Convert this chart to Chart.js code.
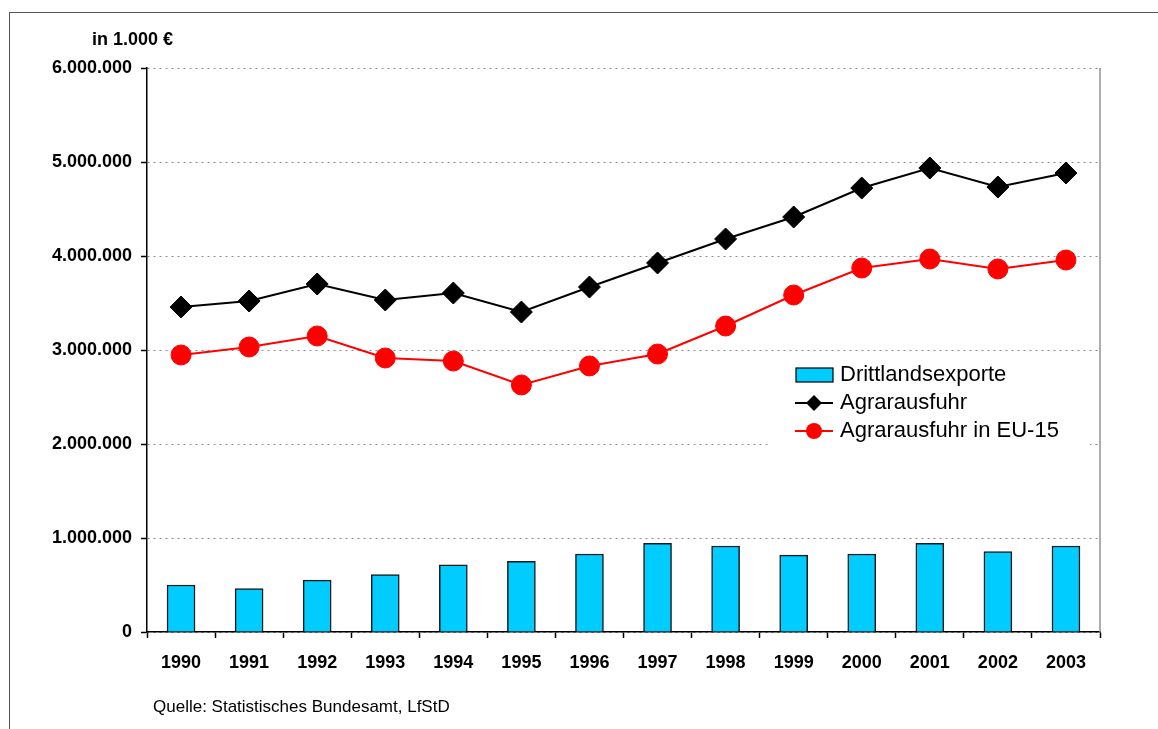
<!DOCTYPE html>
<html>
<head>
<meta charset="utf-8">
<script src="https://cdn.jsdelivr.net/npm/chart.js@4/dist/chart.umd.min.js"></script>
<style>
  html, body { margin: 0; padding: 0; background: #fff; }
  body { width: 1158px; height: 729px; position: relative; overflow: hidden; font-family: "Liberation Sans", Arial, sans-serif; }
  #frame { position: absolute; left: 9px; top: 12px; right: -5px; bottom: -5px; border-top: 1.5px solid #555; border-left: 1.5px solid #555; }
  #chartBox { position: absolute; left: 0; top: 0; width: 1158px; height: 729px; }
  .unit { position: absolute; left: 92px; top: 29px; font-size: 18px; font-weight: bold; color: #000; }
  .source { position: absolute; left: 153px; top: 697px; font-size: 17px; color: #000; }
</style>
</head>
<body>
<div id="frame"></div>
<div id="chartBox"><canvas id="exportChart"></canvas></div>
<div class="unit">in 1.000 €</div>
<div class="source">Quelle: Statistisches Bundesamt, LfStD</div>
<script>
let years = ["1990", "1991", "1992", "1993", "1994", "1995", "1996", "1997", "1998", "1999", "2000", "2001", "2002", "2003"];

let drittland = [500000, 462000, 552000, 612000, 715000, 752000, 830000, 944000, 915000, 818000, 830000, 944000, 856000, 915000];
let agrarausfuhr = [3457000, 3521000, 3702000, 3532000, 3606000, 3404000, 3670000, 3926000, 4181000, 4415000, 4723000, 4936000, 4734000, 4883000];
let agrarEU15 = [2947000, 3032000, 3149000, 2915000, 2883000, 2628000, 2830000, 2957000, 3255000, 3585000, 3872000, 3968000, 3862000, 3957000];

let yTicks = [0, 1000000, 2000000, 3000000, 4000000, 5000000, 6000000];

function fmt(n) {
  return n.toString().replace(/\B(?=(\d{3})+(?!\d))/g, ".");
}

// right border of the plot + legend box inside the plot
const plotExtras = {
  id: "plotExtras",
  beforeDatasetsDraw(chart) {
    let c = chart.ctx, a = chart.chartArea;
    c.save();
    c.strokeStyle = "#909090";
    c.lineWidth = 1.5;
    c.beginPath();
    c.moveTo(a.right, a.top);
    c.lineTo(a.right, a.bottom);
    c.stroke();
    // legend background hides grid lines
    c.fillStyle = "#fff";
    c.fillRect(768, 354, 322, 96);
    c.restore();
  },
  afterDraw(chart) {
    let c = chart.ctx;
    let ds = chart.data.datasets;
    c.save();
    c.font = "22px 'Liberation Sans', Arial, sans-serif";
    c.textBaseline = "middle";
    // bars
    c.fillStyle = ds[0].backgroundColor;
    c.fillRect(796, 368, 37, 14);
    c.strokeStyle = "#000";
    c.lineWidth = 1.2;
    c.strokeRect(796, 368, 37, 14);
    c.fillStyle = "#000";
    c.fillText(ds[0].label, 840, 375);
    // lines
    let rows = [[ds[1], 403], [ds[2], 431]];
    rows.forEach(function (r) {
      let d = r[0], y = r[1];
      c.strokeStyle = d.borderColor;
      c.lineWidth = 2;
      c.beginPath();
      c.moveTo(795, y);
      c.lineTo(833, y);
      c.stroke();
      c.fillStyle = d.pointBackgroundColor;
      c.beginPath();
      if (d.pointStyle === "rectRot") {
        c.moveTo(814 - 8, y); c.lineTo(814, y - 8); c.lineTo(814 + 8, y); c.lineTo(814, y + 8);
      } else {
        c.arc(814, y, 8, 0, Math.PI * 2);
      }
      c.closePath();
      c.fill();
      c.fillStyle = "#000";
      c.fillText(d.label, 840, y);
    });
    c.restore();
  }
};

let ctx = document.getElementById("exportChart").getContext("2d");

new Chart(ctx, {
  type: "bar",
  data: {
    labels: years,
    datasets: [
      {
        type: "bar",
        label: "Drittlandsexporte",
        data: drittland,
        backgroundColor: "#00CCFF",
        borderColor: "#1a1a1a",
        borderWidth: 1.5,
        barThickness: 28,
        order: 3
      },
      {
        type: "line",
        label: "Agrarausfuhr",
        data: agrarausfuhr,
        borderColor: "#000",
        borderWidth: 2,
        pointStyle: "rectRot",
        pointRadius: 11,
        pointBackgroundColor: "#000",
        pointBorderColor: "#000",
        pointBorderWidth: 1,
        tension: 0,
        order: 2
      },
      {
        type: "line",
        label: "Agrarausfuhr in EU-15",
        data: agrarEU15,
        borderColor: "#FF0000",
        borderWidth: 2,
        pointStyle: "circle",
        pointRadius: 10,
        pointBackgroundColor: "#FF0000",
        pointBorderColor: "#FF0000",
        pointBorderWidth: 1,
        tension: 0,
        order: 1
      }
    ]
  },
  options: {
    responsive: true,
    maintainAspectRatio: false,
    animation: false,
    layout: { padding: { left: 0, top: 68, right: 58, bottom: 0 } },
    plugins: {
      legend: { display: false },
      tooltip: { enabled: false }
    },
    scales: {
      x: {
        offset: true,
        afterFit(scale) { scale.height = 97; },
        grid: {
          offset: true,
          drawOnChartArea: false,
          drawTicks: true,
          tickLength: 6,
          tickColor: "#000",
          tickWidth: 1.5
        },
        border: { color: "#000", width: 1.5 },
        ticks: {
          color: "#000",
          padding: 14,
          maxRotation: 0,
          font: { family: "'Liberation Sans', Arial, sans-serif", size: 18, weight: "bold" }
        }
      },
      y: {
        min: 0,
        max: 6000000,
        afterFit(scale) { scale.width = 147; },
        afterBuildTicks(scale) { scale.ticks = yTicks.map(v => ({ value: v })); },
        grid: {
          color: "#8a8a8a",
          lineWidth: 1,
          tickLength: 6,
          tickColor: "#000",
          tickWidth: 1.5,
          tickBorderDash: []
        },
        border: { color: "#000", width: 1.5, dash: [2, 4] },
        ticks: {
          color: "#000",
          padding: 9,
          callback: function (v) { return fmt(v); },
          font: { family: "'Liberation Sans', Arial, sans-serif", size: 18, weight: "bold" }
        }
      }
    }
  },
  plugins: [plotExtras]
});
</script>
</body>
</html>
